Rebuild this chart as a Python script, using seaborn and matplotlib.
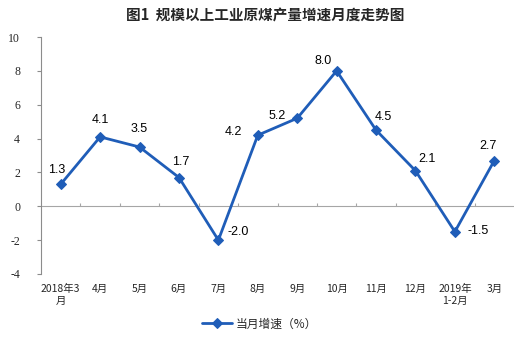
import numpy as np
import pandas as pd
import matplotlib
matplotlib.use("Agg")
import matplotlib.pyplot as plt
import seaborn as sns

months = ["2018年3\n月", "4月", "5月", "6月", "7月", "8月", "9月", "10月", "11月", "12月", "2019年\n1-2月", "3月"]
growth = [1.3, 4.1, 3.5, 1.7, -2.0, 4.2, 5.2, 8.0, 4.5, 2.1, -1.5, 2.7]
value_labels = ["1.3", "4.1", "3.5", "1.7", "-2.0", "4.2", "5.2", "8.0", "4.5", "2.1", "-1.5", "2.7"]
yticks = [10, 8, 6, 4, 2, 0, -2, -4]
series_name = "当月增速（%）"
title = "图1  规模以上工业原煤产量增速月度走势图"

# label offsets in pixels (dx, dy; dy positive = upwards)
label_offsets_px = [(-4, 14), (0, 17), (0, 18), (2, 16), (20, 8), (-24, 3),
                    (-20, 2), (-13, 10), (7, 13), (12, 12), (23, 1), (-6, 15)]

sns.set_theme(style="white")
cjk = ["Noto Sans CJK SC", "DejaVu Sans"]
plt.rcParams["font.family"] = cjk

df = pd.DataFrame({"x": np.arange(len(months)), "y": growth, "s": series_name})

fig = plt.figure(figsize=(5.19, 3.39), dpi=100)
ax = fig.add_axes([41/519, 1 - 274/339, (514 - 41)/519, (274 - 37)/339])

color = "#1F5DB8"
sns.lineplot(data=df, x="x", y="y", hue="s", palette=[color], marker="D",
             markersize=5, markeredgecolor=color, linewidth=2.0, ax=ax, legend=True)

ax.set_xlim(-0.5, len(months) - 0.5)
ax.set_ylim(-4, 10)
ax.set_yticks(yticks)
ax.set_yticklabels([str(t) for t in yticks], fontfamily="Liberation Serif", fontsize=8.5)
ax.set_xticks(np.arange(len(months)))
ax.set_xticklabels(months, fontsize=7.5, linespacing=1.3, va="top")
ax.tick_params(axis="x", length=0, pad=7)
ax.tick_params(axis="y", length=3, width=0.8, color="#8c8c8c", direction="out", pad=12, left=True)
ax.set_xlabel("")
ax.set_ylabel("")

for side in ["top", "right", "bottom"]:
    ax.spines[side].set_visible(False)
ax.spines["left"].set_color("#8c8c8c")
ax.spines["left"].set_linewidth(0.8)

# zero line with category-boundary ticks
ax.axhline(0, color="#a6a6a6", linewidth=0.8, zorder=1)
ax.vlines(np.arange(0.5, len(months) - 0.5), 0, 0.18, color="#a6a6a6", linewidth=0.8, zorder=1)

for i, (v, lab) in enumerate(zip(growth, value_labels)):
    dx, dy = label_offsets_px[i]
    ax.annotate(lab, (i, v), xytext=(dx * 0.72, dy * 0.72), textcoords="offset points",
                ha="center", va="center", fontsize=9, fontfamily="Liberation Sans", color="#000000")

ax.get_legend().remove()
handles, labels = ax.get_legend_handles_labels()
fig.legend(handles, labels, loc="center", bbox_to_anchor=(0.5, 1 - 324/339), frameon=False,
           fontsize=8.5, handlelength=2.5, handletextpad=0.3)

fig.text(0.51, 1 - 15/339, title, ha="center", va="center", fontsize=10.5, fontweight="bold")

fig.savefig("out.png", dpi=100)
